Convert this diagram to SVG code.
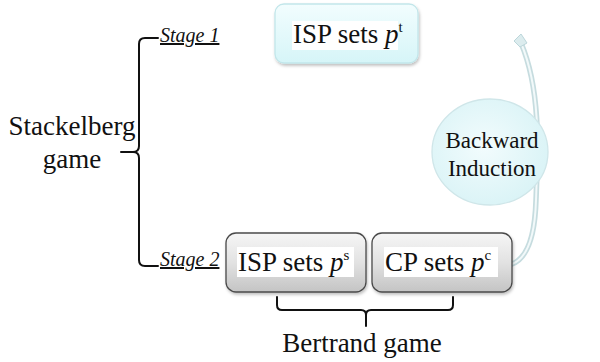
<svg xmlns="http://www.w3.org/2000/svg" width="600" height="362" viewBox="0 0 600 362">
  <defs>
    <linearGradient id="cyanFill" x1="0" y1="0" x2="0" y2="1">
      <stop offset="0" stop-color="#f2fdfe"/>
      <stop offset="1" stop-color="#d6f5f8"/>
    </linearGradient>
    <linearGradient id="grayFill" x1="0" y1="0" x2="0" y2="1">
      <stop offset="0" stop-color="#f6f6f6"/>
      <stop offset="0.5" stop-color="#e2e2e2"/>
      <stop offset="1" stop-color="#c4c4c4"/>
    </linearGradient>
    <radialGradient id="ellFill" cx="0.45" cy="0.45" r="0.6">
      <stop offset="0" stop-color="#f2fcfd"/>
      <stop offset="1" stop-color="#d9f3f6"/>
    </radialGradient>
    <filter id="shadow" x="-10%" y="-10%" width="130%" height="140%">
      <feDropShadow dx="1" dy="2" stdDeviation="1.5" flood-color="#000" flood-opacity="0.25"/>
    </filter>
  </defs>

  <rect width="600" height="362" fill="#fff"/>

  <!-- curved arrow, passing behind the ellipse -->
  <g id="connectors">
    <path d="M512,264 C528,258 535,235 536,200 C538,150 541,90 521,43" fill="none" stroke="#c6dcdf" stroke-width="5.5" stroke-linecap="round"/>
    <path d="M512,264 C528,258 535,235 536,200 C538,150 541,90 521,43" fill="none" stroke="#f2f9fa" stroke-width="2" stroke-linecap="round"/>
    <path d="M514,41 L521,34 L527,43 L520,47 Z" fill="#dcecee" stroke="#bcd6da" stroke-width="1"/>
  </g>

  <!-- Stackelberg brace -->
  <g id="stackelberg">
    <path d="M158,38 H145 Q139,38 139,44 V146 Q139,152 133,152 H121 M133,152 Q139,152 139,158 V260 Q139,266 145,266 H158" fill="none" stroke="#111" stroke-width="2" stroke-linecap="round" stroke-linejoin="round"/>
    <text x="72" y="135" font-size="27" font-family="'Liberation Serif'" fill="#111" text-anchor="middle">Stackelberg</text>
    <text x="72" y="168" font-size="27" font-family="'Liberation Serif'" fill="#111" text-anchor="middle">game</text>
  </g>

  <g id="stage1">
    <text x="160" y="42" font-size="20" font-family="'Liberation Serif'" font-style="italic" text-decoration="underline" fill="#111">Stage 1</text>
  </g>
  <g id="stage2">
    <text x="160" y="266" font-size="20" font-family="'Liberation Serif'" font-style="italic" text-decoration="underline" fill="#111">Stage 2</text>
  </g>

  <!-- Stage 1 node -->
  <g id="isp-pt">
    <rect x="275" y="4" width="143" height="59" rx="9" fill="url(#cyanFill)" stroke="#c2e6ea" stroke-width="1.3" filter="url(#shadow)"/>
    <rect x="292" y="21" width="106" height="29" fill="#fff"/>
    <text x="293" y="43" font-size="27" font-family="'Liberation Serif'" fill="#111">ISP sets <tspan font-style="italic">p</tspan><tspan font-size="15" dy="-11">t</tspan></text>
  </g>

  <!-- Stage 2 nodes -->
  <g id="isp-ps">
    <rect x="226" y="233" width="140" height="59" rx="10" fill="url(#grayFill)" stroke="#4a4a4a" stroke-width="1.3" filter="url(#shadow)"/>
    <rect x="237" y="247" width="117" height="30" fill="#fff"/>
    <text x="238" y="271" font-size="27" font-family="'Liberation Serif'" fill="#111">ISP sets <tspan font-style="italic">p</tspan><tspan font-size="15" dy="-11">s</tspan></text>
  </g>
  <g id="cp-pc">
    <rect x="372" y="233" width="140" height="59" rx="10" fill="url(#grayFill)" stroke="#4a4a4a" stroke-width="1.3" filter="url(#shadow)"/>
    <rect x="384" y="247" width="114" height="30" fill="#fff"/>
    <text x="385" y="271" font-size="27" font-family="'Liberation Serif'" fill="#111">CP sets <tspan font-style="italic">p</tspan><tspan font-size="15" dy="-11">c</tspan></text>
  </g>

  <!-- Bertrand brace -->
  <g id="bertrand">
    <path d="M277,297 V305 Q277,310 282,310 H361 Q366,310 366,315 V326 M366,315 Q366,310 371,310 H448 Q453,310 453,305 V297" fill="none" stroke="#111" stroke-width="2" stroke-linecap="round" stroke-linejoin="round"/>
    <text x="362" y="352" font-size="27" font-family="'Liberation Serif'" fill="#111" text-anchor="middle">Bertrand game</text>
  </g>

  <!-- Backward induction ellipse -->
  <g id="backward-induction">
    <ellipse cx="490" cy="152" rx="58" ry="53" fill="url(#ellFill)" stroke="#cfe6e9" stroke-width="1.3"/>
    <text x="492" y="148" font-size="23" font-family="'Liberation Serif'" fill="#111" text-anchor="middle">Backward</text>
    <text x="492" y="176" font-size="23" font-family="'Liberation Serif'" fill="#111" text-anchor="middle">Induction</text>
  </g>
</svg>
